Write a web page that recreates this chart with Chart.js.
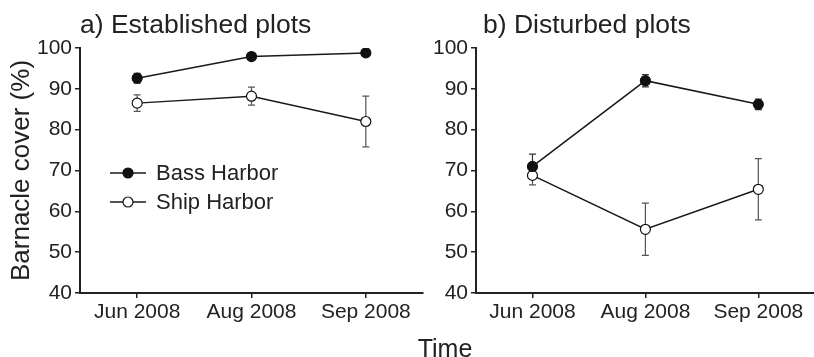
<!DOCTYPE html>
<html>
<head>
<meta charset="utf-8">
<script src="https://cdn.jsdelivr.net/npm/chart.js@4.4.0/dist/chart.umd.min.js"></script>
<style>
  html, body { margin: 0; padding: 0; background: #fff; overflow: hidden; }
  body { width: 814px; height: 357px; position: relative; }
  canvas { position: absolute; top: 0; }
  #panelA { left: 0; }
  #panelB { left: 409px; }
  #timeLabel {
    position: absolute; left: 0; width: 890px; top: 334px; line-height: 25px;
    text-align: center; color: #222;
    font: 25px 'Liberation Sans', Arial, Helvetica, sans-serif;
  }
</style>
</head>
<body>
<canvas id="panelA" width="430" height="357"></canvas>
<canvas id="panelB" width="412" height="357"></canvas>
<div id="timeLabel">Time</div>
<script>
// Data
const months = ['Jun 2008', 'Aug 2008', 'Sep 2008'];
const yTicks = [40, 50, 60, 70, 80, 90, 100];
const seriesNames = ['Bass Harbor', 'Ship Harbor'];

// a) Established plots
const bassEstablished = [92.6, 97.9, 98.8];
const bassEstablishedErr = [1.2, 0.4, 0.4];
const shipEstablished = [86.5, 88.2, 82.0];
const shipEstablishedErr = [2.0, 2.2, 6.2];

// b) Disturbed plots
const bassDisturbed = [71.0, 92.0, 86.2];
const bassDisturbedErr = [3.0, 1.5, 1.3];
const shipDisturbed = [68.8, 55.6, 65.4];
const shipDisturbedErr = [2.3, 6.4, 7.5];

const FONT = "'Liberation Sans', Arial, Helvetica, sans-serif";
const INK = '#222';
Chart.defaults.font.family = FONT;
Chart.defaults.color = INK;

// Error bars drawn under the markers
const errorBars = {
  id: 'errorBars',
  beforeDatasetsDraw(chart) {
    const ctx = chart.ctx;
    const yScale = chart.scales.y;
    chart.data.datasets.forEach((ds, i) => {
      const meta = chart.getDatasetMeta(i);
      ctx.save();
      ctx.strokeStyle = ds.errorColor;
      ctx.lineWidth = 1.2;
      meta.data.forEach((pt, j) => {
        const top = yScale.getPixelForValue(ds.data[j] + ds.errors[j]);
        const bot = yScale.getPixelForValue(ds.data[j] - ds.errors[j]);
        ctx.beginPath();
        ctx.moveTo(pt.x, top); ctx.lineTo(pt.x, bot);
        ctx.moveTo(pt.x - 3.5, top); ctx.lineTo(pt.x + 3.5, top);
        ctx.moveTo(pt.x - 3.5, bot); ctx.lineTo(pt.x + 3.5, bot);
        ctx.stroke();
      });
      ctx.restore();
    });
  }
};

// Panel title and the line-through-marker legend
const panelText = {
  id: 'panelText',
  afterDraw(chart, args, opts) {
    const ctx = chart.ctx;
    ctx.save();
    ctx.fillStyle = INK;
    ctx.textAlign = 'left';
    ctx.textBaseline = 'alphabetic';
    ctx.font = '26.5px ' + FONT;
    ctx.fillText(opts.title, opts.titleX, 33);

    if (opts.legend) {
      ctx.font = '22px ' + FONT;
      ctx.textBaseline = 'middle';
      chart.data.datasets.forEach((ds, i) => {
        const y = 173 + i * 29;
        ctx.strokeStyle = ds.borderColor;
        ctx.lineWidth = 1.5;
        ctx.beginPath();
        ctx.moveTo(110, y); ctx.lineTo(146, y);
        ctx.stroke();
        ctx.beginPath();
        ctx.arc(128, y, 5, 0, Math.PI * 2);
        ctx.fillStyle = ds.pointBackgroundColor;
        ctx.fill();
        ctx.lineWidth = 1.2;
        ctx.strokeStyle = ds.pointBorderColor;
        ctx.stroke();
        ctx.fillStyle = INK;
        ctx.fillText(ds.label, 156, y + 1);
      });
    }
    ctx.restore();
  }
};

function makeDatasets(bass, bassErr, ship, shipErr) {
  return [
    {
      label: seriesNames[0], data: bass, errors: bassErr, errorColor: '#333',
      borderColor: '#1a1a1a', borderWidth: 1.5,
      pointBackgroundColor: '#111', pointBorderColor: '#111',
      pointRadius: 5, pointBorderWidth: 1.2
    },
    {
      label: seriesNames[1], data: ship, errors: shipErr, errorColor: '#555',
      borderColor: '#1a1a1a', borderWidth: 1.5,
      pointBackgroundColor: '#fff', pointBorderColor: '#111',
      pointRadius: 5, pointBorderWidth: 1.2
    }
  ];
}

function makeOptions(title, titleX, yWidth, padRight, showYTitle, showLegend) {
  return {
    responsive: false,
    animation: false,
    events: [],
    layout: { padding: { top: 48, right: padRight, left: 0, bottom: 0 } },
    elements: { line: { tension: 0 } },
    plugins: {
      legend: { display: false },
      tooltip: { enabled: false },
      panelText: { title: title, titleX: titleX, legend: showLegend }
    },
    scales: {
      x: {
        type: 'category',
        offset: true,
        grid: { offset: false, drawOnChartArea: false, tickLength: 5, color: INK, lineWidth: 1.5 },
        border: { color: INK, width: 2 },
        ticks: { color: INK, font: { size: 21 }, padding: 2, maxRotation: 0 },
        afterFit: (s) => { s.height = 64; }
      },
      y: {
        min: 40,
        max: 100,
        afterBuildTicks: (s) => { s.ticks = yTicks.map(v => ({ value: v })); },
        grid: { drawOnChartArea: false, tickLength: 5, color: INK, lineWidth: 1.5 },
        border: { color: INK, width: 2 },
        ticks: { color: INK, font: { size: 21 }, padding: 3 },
        title: {
          display: showYTitle, text: 'Barnacle cover (%)', color: INK,
          font: { size: 26 }, padding: { top: 6, bottom: 0 }
        },
        afterFit: (s) => { s.width = yWidth; }
      }
    }
  };
}

new Chart(document.getElementById('panelA'), {
  type: 'line',
  data: { labels: months, datasets: makeDatasets(bassEstablished, bassEstablishedErr, shipEstablished, shipEstablishedErr) },
  options: makeOptions('a) Established plots', 80, 80, 7, true, true),
  plugins: [errorBars, panelText]
});

new Chart(document.getElementById('panelB'), {
  type: 'line',
  data: { labels: months, datasets: makeDatasets(bassDisturbed, bassDisturbedErr, shipDisturbed, shipDisturbedErr) },
  options: makeOptions('b) Disturbed plots', 74, 67, 0, false, false),
  plugins: [errorBars, panelText]
});
</script>
</body>
</html>
